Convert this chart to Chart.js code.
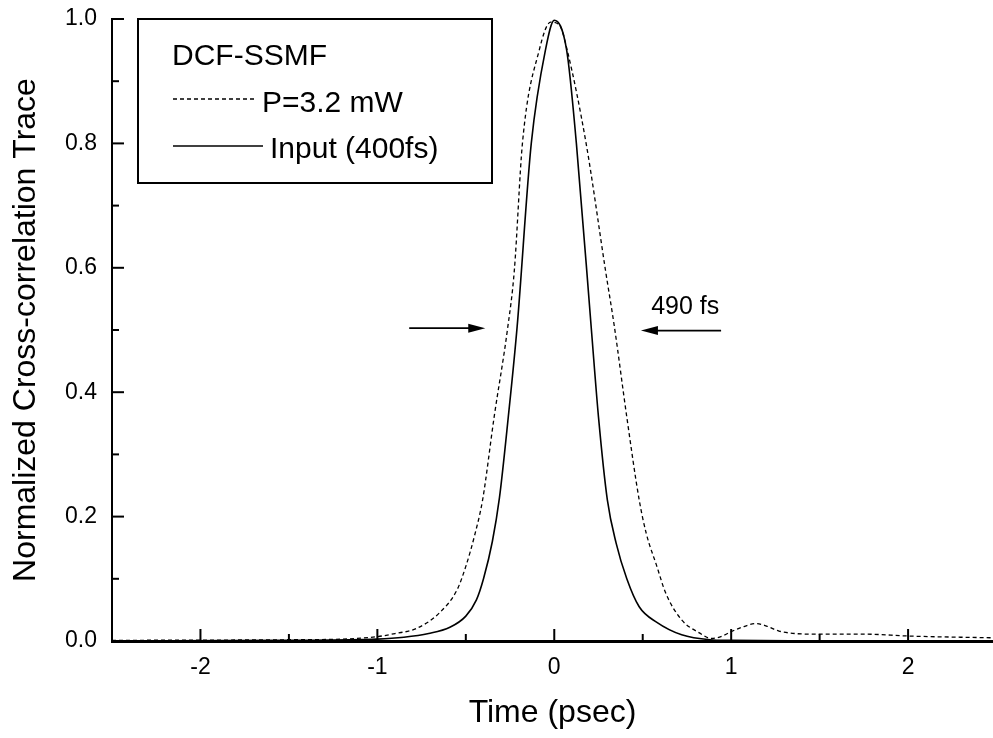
<!DOCTYPE html>
<html lang="en">
<head>
    <meta charset="UTF-8">
    <title>Cross-correlation trace</title>
    <script src="https://cdn.jsdelivr.net/npm/chart.js"></script>
    <style>
        html, body { margin: 0; padding: 0; background: #fff; }
        #wrap { width: 993px; height: 738px; }
    </style>
</head>
<body>
    <div id="wrap"><canvas id="chart"></canvas></div>

    <script>
        // Input pulse (400 fs)
        const inputTime = [-2.5, -1.5, -1.0, -0.85, -0.71, -0.59, -0.5, -0.44, -0.40, -0.35, -0.31, -0.26, -0.21, -0.13, -0.05, 0.0,
                           0.07, 0.125, 0.21, 0.25, 0.30, 0.35, 0.41, 0.48, 0.58, 0.72, 0.88, 1.0, 1.5, 2.5];
        const inputValue = [0, 0.001, 0.003, 0.006, 0.012, 0.022, 0.04, 0.066, 0.10, 0.16, 0.23, 0.36, 0.505, 0.80, 0.95, 0.998,
                            0.95, 0.80, 0.50, 0.36, 0.227, 0.157, 0.10, 0.055, 0.03, 0.01, 0.002, 0.001, 0, 0];

        // DCF-SSMF output, P = 3.2 mW
        const pumpTime = [-2.5, -1.5, -1.2, -1.0, -0.9, -0.78, -0.65, -0.55, -0.5, -0.45, -0.405, -0.34, -0.265, -0.226, -0.18, -0.085, -0.02,
                          0.03, 0.073, 0.18, 0.29, 0.34, 0.41, 0.48, 0.52, 0.58, 0.63, 0.72, 0.82, 0.89, 0.95, 1.0, 1.06, 1.14, 1.2, 1.27,
                          1.48, 1.76, 2.0, 2.5];
        const pumpValue = [0.001, 0.002, 0.003, 0.007, 0.012, 0.02, 0.045, 0.082, 0.12, 0.17, 0.227, 0.36, 0.5, 0.595, 0.80, 0.95, 0.995,
                           0.99, 0.95, 0.80, 0.595, 0.505, 0.36, 0.227, 0.173, 0.12, 0.077, 0.034, 0.013, 0.004, 0.008, 0.015, 0.022, 0.028, 0.024, 0.016,
                           0.011, 0.011, 0.008, 0.005];

        const FONT = 'Liberation Sans, Arial, Helvetica, sans-serif';

        function toPoints(xs, ys) {
            return xs.map((x, i) => ({ x: x, y: ys[i] }));
        }

        function isHalfStep(v) {
            return Math.abs(v * 2 - Math.round(v * 2)) < 1e-6;
        }

        // inward tick marks, the boxed legend and the width arrows
        const decorations = {
            id: 'decorations',
            afterDatasetsDraw(chart) {
                const ctx = chart.ctx;
                const xs = chart.scales.x;
                const ys = chart.scales.y;
                const area = chart.chartArea;
                ctx.save();
                ctx.strokeStyle = '#000';
                ctx.fillStyle = '#000';
                ctx.lineWidth = 2;

                // x ticks
                xs.ticks.forEach((t) => {
                    const v = t.value;
                    if (v <= -2.5 || !isHalfStep(v)) return;
                    const px = xs.getPixelForValue(v);
                    const len = Math.abs(v - Math.round(v)) < 1e-6 ? 12 : 7;
                    ctx.beginPath();
                    ctx.moveTo(px, area.bottom);
                    ctx.lineTo(px, area.bottom - len);
                    ctx.stroke();
                });

                // y ticks
                ys.ticks.forEach((t) => {
                    const v = t.value;
                    if (v <= 0) return;
                    const py = ys.getPixelForValue(v);
                    const major = Math.round(v * 10) % 2 === 0;
                    ctx.beginPath();
                    ctx.moveTo(area.left, py);
                    ctx.lineTo(area.left + (major ? 12 : 7), py);
                    ctx.stroke();
                });

                // legend box
                ctx.lineWidth = 2;
                ctx.strokeRect(138, 19, 354, 164);
                ctx.font = '30px ' + FONT;
                ctx.textBaseline = 'alphabetic';
                ctx.textAlign = 'left';
                ctx.fillText('DCF-SSMF', 172, 65);

                ctx.lineWidth = 1.3;
                ctx.setLineDash([4, 3]);
                ctx.beginPath();
                ctx.moveTo(173, 99);
                ctx.lineTo(254, 99);
                ctx.stroke();
                ctx.setLineDash([]);
                ctx.fillText('P=3.2 mW', 262, 112);

                ctx.lineWidth = 1.6;
                ctx.beginPath();
                ctx.moveTo(173, 146);
                ctx.lineTo(263, 146);
                ctx.stroke();
                ctx.fillText('Input (400fs)', 270, 158);

                // arrows marking the 490 fs width
                function arrow(x0, x1, y) {
                    const p0 = xs.getPixelForValue(x0);
                    const p1 = xs.getPixelForValue(x1);
                    const py = ys.getPixelForValue(y);
                    const dir = Math.sign(p1 - p0);
                    ctx.lineWidth = 1.6;
                    ctx.beginPath();
                    ctx.moveTo(p0, py);
                    ctx.lineTo(p1 - dir * 10, py);
                    ctx.stroke();
                    ctx.beginPath();
                    ctx.moveTo(p1, py);
                    ctx.lineTo(p1 - dir * 17, py - 4.5);
                    ctx.lineTo(p1 - dir * 17, py + 4.5);
                    ctx.closePath();
                    ctx.fill();
                }
                arrow(-0.82, -0.39, 0.503);
                arrow(0.943, 0.49, 0.499);

                ctx.font = '25px ' + FONT;
                ctx.fillText('490 fs', xs.getPixelForValue(0.548), ys.getPixelForValue(0.526));
                ctx.restore();
            }
        };

        new Chart(document.getElementById('chart'), {
            type: 'line',
            data: {
                datasets: [
                    {
                        label: 'P=3.2 mW',
                        data: toPoints(pumpTime, pumpValue),
                        borderColor: '#000',
                        borderWidth: 1.3,
                        borderDash: [4, 3],
                        pointRadius: 0,
                        cubicInterpolationMode: 'monotone',
                        fill: false
                    },
                    {
                        label: 'Input (400fs)',
                        data: toPoints(inputTime, inputValue),
                        borderColor: '#000',
                        borderWidth: 1.6,
                        pointRadius: 0,
                        cubicInterpolationMode: 'monotone',
                        fill: false
                    }
                ]
            },
            options: {
                responsive: true,
                maintainAspectRatio: false,
                animation: false,
                layout: { autoPadding: false, padding: { top: 19, right: 0, left: 0, bottom: 0 } },
                plugins: {
                    legend: { display: false },
                    tooltip: { enabled: false }
                },
                scales: {
                    x: {
                        type: 'linear',
                        min: -2.5,
                        max: 2.48,
                        afterFit: (scale) => {
                            scale.height = 97;
                            scale.paddingLeft = 0;
                            scale.paddingRight = 0;
                        },
                        grid: { display: false, drawTicks: false },
                        border: { display: true, color: '#000', width: 3 },
                        ticks: {
                            stepSize: 0.5,
                            padding: 13,
                            color: '#000',
                            font: { family: FONT, size: 23 },
                            maxRotation: 0,
                            autoSkip: false,
                            callback: (v) => Math.abs(v - Math.round(v)) < 1e-6 ? String(Math.round(v)) : ''
                        },
                        title: {
                            display: true,
                            text: 'Time (psec)',
                            color: '#000',
                            font: { family: FONT, size: 32, lineHeight: 1 },
                            padding: { top: 0, bottom: 9 }
                        }
                    },
                    y: {
                        min: 0,
                        max: 1,
                        afterFit: (scale) => {
                            scale.width = 112;
                            scale.paddingTop = 0;
                            scale.paddingBottom = 0;
                        },
                        grid: { display: false, drawTicks: false },
                        border: { display: true, color: '#000', width: 2 },
                        ticks: {
                            stepSize: 0.1,
                            padding: 15,
                            color: '#000',
                            font: { family: FONT, size: 23 },
                            autoSkip: false,
                            callback: (v) => Math.round(v * 10) % 2 === 0 ? v.toFixed(1) : ''
                        },
                        title: {
                            display: true,
                            text: 'Normalized Cross-correlation Trace',
                            color: '#000',
                            font: { family: FONT, size: 32, lineHeight: 1 },
                            padding: { top: 10, bottom: 0 }
                        }
                    }
                }
            },
            plugins: [decorations]
        });
    </script>
</body>
</html>
